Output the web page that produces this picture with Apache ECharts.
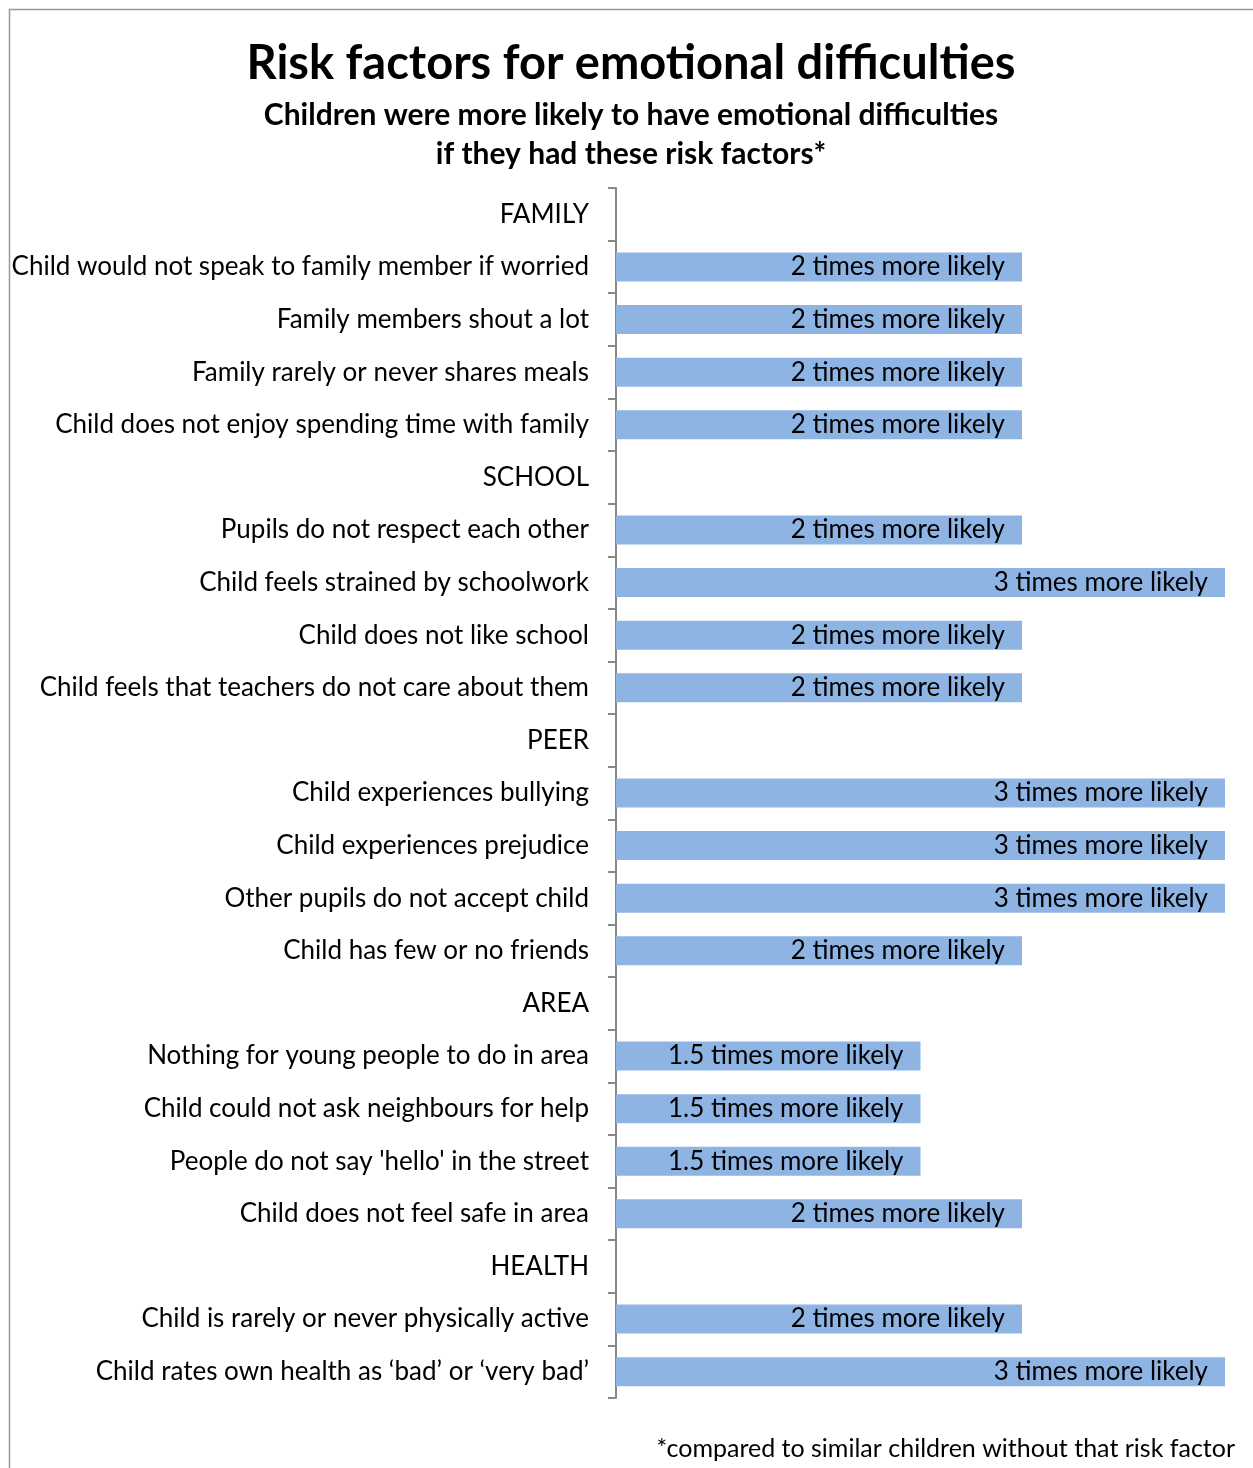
<!DOCTYPE html>
<html>
<head>
<meta charset="utf-8">
<script src="https://cdn.jsdelivr.net/npm/echarts@6/dist/echarts.min.js"></script>
<style>
html,body{margin:0;padding:0;background:#fff;}
#chart{width:1253px;height:1468px;}
</style>
</head>
<body>
<div id="chart"></div>
<script>
const titleText = 'Risk factors for emotional difficulties';
const subtitleText = 'Children were more likely to have emotional difficulties\nif they had these risk factors*';
const footnoteText = '*compared to similar children without that risk factor';

const categories = [
  'FAMILY',
  'Child would not speak to family member if worried',
  'Family members shout a lot',
  'Family rarely or never shares meals',
  'Child does not enjoy spending time with family',
  'SCHOOL',
  'Pupils do not respect each other',
  'Child feels strained by schoolwork',
  'Child does not like school',
  'Child feels that teachers do not care about them',
  'PEER',
  'Child experiences bullying',
  'Child experiences prejudice',
  'Other pupils do not accept child',
  'Child has few or no friends',
  'AREA',
  'Nothing for young people to do in area',
  'Child could not ask neighbours for help',
  "People do not say 'hello' in the street",
  'Child does not feel safe in area',
  'HEALTH',
  'Child is rarely or never physically active',
  'Child rates own health as \u2018bad\u2019 or \u2018very bad\u2019'
];

const values = [
  null, 2, 2, 2, 2,
  null, 2, 3, 2, 2,
  null, 3, 3, 3, 2,
  null, 1.5, 1.5, 1.5, 2,
  null, 2, 3
];

const FONT = 'Lato';
const chart = echarts.init(document.getElementById('chart'), null, {renderer: 'canvas'});
chart.setOption({
  backgroundColor: '#ffffff',
  animation: false,
  graphic: [
    {type: 'rect', left: 7, top: 7, shape: {width: 1400, height: 1600}, style: {fill: 'none', stroke: '#999999', lineWidth: 1.5}, z: 0},
    {type: 'text', x: 631, y: 64, style: {text: titleText, fontFamily: FONT, fontWeight: 'bold', fontSize: 47, fill: '#000', textAlign: 'center', textVerticalAlign: 'middle'}},
    {type: 'text', x: 631, y: 96, style: {text: subtitleText, fontFamily: FONT, fontWeight: 'bold', fontSize: 30, lineHeight: 39, fill: '#000', textAlign: 'center', textVerticalAlign: 'top'}},
    {type: 'text', right: 18, top: 1434, style: {text: footnoteText, fontFamily: FONT, fontSize: 25, lineHeight: 30, fill: '#000'}}
  ],
  grid: {left: 616, right: 28, top: 188, bottom: 70, containLabel: false},
  xAxis: {
    type: 'value', min: 0, max: 3, show: false
  },
  yAxis: {
    type: 'category', data: categories, inverse: true,
    axisLine: {show: true, lineStyle: {color: '#888888', width: 2}},
    axisTick: {show: true, length: 8, lineStyle: {color: '#888888', width: 2}},
    axisLabel: {fontFamily: FONT, fontSize: 26, color: '#000', margin: 27, interval: 0}
  },
  series: [{
    type: 'bar', data: values, barWidth: 29,
    itemStyle: {color: '#8EB4E3'},
    label: {
      show: true, position: 'insideRight', distance: 17,
      formatter: p => p.value == null ? '' : p.value + ' times more likely',
      fontFamily: FONT, fontSize: 26, color: '#000'
    }
  }]
});
</script>
</body>
</html>
